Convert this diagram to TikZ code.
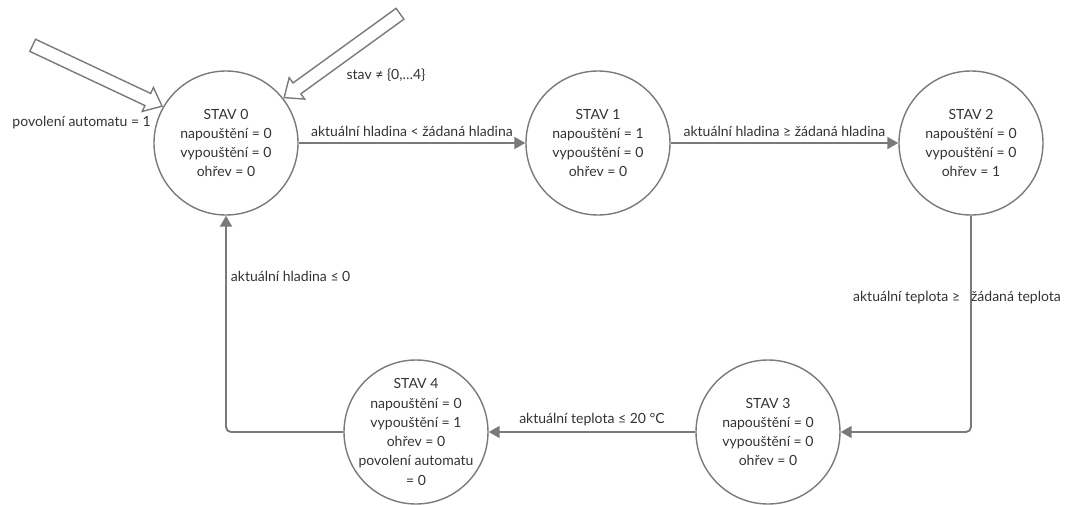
\documentclass[tikz,border=0pt]{standalone}
\usepackage{fontspec}
\setmainfont{Lato}
\usetikzlibrary{arrows.meta,shapes.arrows}

\definecolor{linegray}{HTML}{7A7A7A}
\definecolor{textgray}{HTML}{333333}

\tikzset{
  state/.style={circle, draw=linegray, line width=1.4pt, minimum size=144pt, inner sep=0pt},
  statetext/.style={align=center, text=textgray, font=\fontsize{14}{19.3}\selectfont},
  conn/.style={draw=linegray, line width=1.9pt, -{Triangle[length=11pt,width=12pt]}},
  lbl/.style={text=textgray, font=\fontsize{14}{17}\selectfont, inner sep=1pt},
  entry/.style={single arrow, draw=linegray, fill=white, line width=1.4pt,
    minimum height=143pt, minimum width=25pt, inner xsep=0pt, inner ysep=6pt,
    text height=0pt, text depth=0pt, single arrow head extend=6.5pt, single arrow tip angle=80}
}

\begin{document}
\begin{tikzpicture}[x=1pt,y=-1pt]
    \useasboundingbox (0,0) rectangle (1072,504);
    % stavy
    \node [state, label={[statetext]center:STAV 0\\napouštění = 0\\vypouštění = 0\\ohřev = 0}] (s0) at (226,143) {};
    \node [state, label={[statetext]center:STAV 1\\napouštění = 1\\vypouštění = 0\\ohřev = 0}] (s1) at (598,143) {};
    \node [state, label={[statetext]center:STAV 2\\napouštění = 0\\vypouštění = 0\\ohřev = 1}] (s2) at (971,143) {};
    \node [state, label={[statetext]center:STAV 3\\napouštění = 0\\vypouštění = 0\\ohřev = 0}] (s3) at (768,432) {};
    \node [state, label={[statetext]center:STAV 4\\napouštění = 0\\vypouštění = 1\\ohřev = 0\\povolení automatu\\= 0}] (s4) at (416,432) {};
    % vstupni sipky
    \node [entry, rotate=-25.2, anchor=tip] (e1) at (s0.150) {};
    \node [entry, rotate=215.9, anchor=tip] (e2) at (s0.38) {};
    \node [lbl, anchor=east] (l1) at (152,123) {povolení automatu = 1};
    \node [lbl] (l2) at (386,75) {stav ≠ \{0,…4\}};
    % prechody
    \draw [conn] (s0) -- node [lbl, above=4pt] (l01) {aktuální hladina < žádaná hladina} (s1);
    \draw [conn] (s1) -- node [lbl, above=4pt] (l12) {aktuální hladina ≥ žádaná hladina} (s2);
    \draw [conn, rounded corners=5pt] (s2) |- node [lbl, pos=0.19, xshift=-14pt] (l23) {aktuální teplota ≥\hspace{11pt}žádaná teplota} (s3);
    \draw [conn] (s3) -- node [lbl, above=4pt] (l34) {aktuální teplota ≤ 20 °C} (s4);
    \draw [conn, rounded corners=5pt] (s4) -| node [lbl, pos=0.86, anchor=west, xshift=3pt] (l40) {aktuální hladina ≤ 0} (s0);
\end{tikzpicture}
\end{document}
